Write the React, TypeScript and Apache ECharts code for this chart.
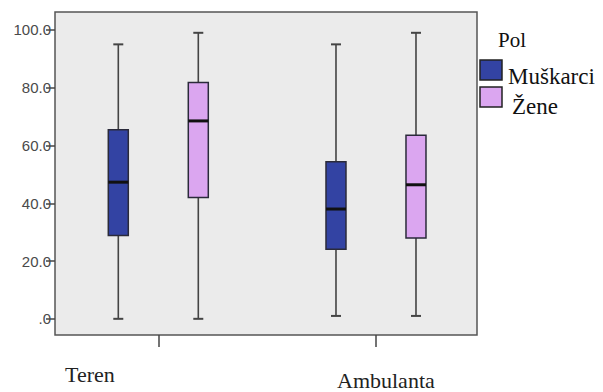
import React, { useEffect, useRef } from "react";
import * as echarts from "echarts";

const categories = ["Teren", "Ambulanta"];
const seriesNames = ["Muškarci", "Žene"];
// [min, Q1, median, Q3, max] per category
const muskarci = [
  [0, 28.8, 47.3, 65.4, 95],
  [1, 24.1, 38.0, 54.4, 95],
];
const zene = [
  [0, 42.0, 68.5, 81.8, 99],
  [1, 28.0, 46.4, 63.5, 99],
];
const yTicks = [0, 20, 40, 60, 80, 100];
const legendTitle = "Pol";

const colors = ["#3343a3", "#dba6f0"];
const offsets = [-40, 40];

function makeRender(offset: number, color: string) {
  return (params: any, api: any) => {
    const x = api.value(0);
    const v = [1, 2, 3, 4, 5].map((i) => api.value(i));
    const p = v.map((val) => api.coord([x, val]));
    const cx = p[0][0] + offset;
    const [yMin, yQ1, yMed, yQ3, yMax] = p.map((q) => q[1]);
    const bw = 20;
    const cap = 10;
    const wStyle = { stroke: "#444", lineWidth: 1.6 };
    return {
      type: "group",
      children: [
        { type: "line", shape: { x1: cx, y1: yMax, x2: cx, y2: yQ3 }, style: wStyle },
        { type: "line", shape: { x1: cx, y1: yQ1, x2: cx, y2: yMin }, style: wStyle },
        { type: "line", shape: { x1: cx - cap / 2, y1: yMax, x2: cx + cap / 2, y2: yMax }, style: { stroke: "#444", lineWidth: 2 } },
        { type: "line", shape: { x1: cx - cap / 2, y1: yMin, x2: cx + cap / 2, y2: yMin }, style: { stroke: "#444", lineWidth: 2 } },
        {
          type: "rect",
          shape: { x: cx - bw / 2, y: yQ3, width: bw, height: yQ1 - yQ3 },
          style: { fill: color, stroke: "#2a2a3a", lineWidth: 1.5 },
        },
        { type: "line", shape: { x1: cx - bw / 2, y1: yMed, x2: cx + bw / 2, y2: yMed }, style: { stroke: "#111", lineWidth: 3 } },
      ],
    };
  };
}

export default function App() {
  const ref = useRef<HTMLDivElement>(null);
  useEffect(() => {
    if (!ref.current) return;
    const chart = echarts.init(ref.current, null, { renderer: "svg" });
    const groups = [muskarci, zene];
    const serif = "'Liberation Serif', 'Times New Roman', serif";
    chart.setOption({
      animation: false,
      backgroundColor: "#ffffff",
      grid: {
        left: 55,
        top: 12,
        width: 422,
        height: 323,
        show: true,
        backgroundColor: "#ebebeb",
        borderColor: "#555",
        borderWidth: 1.5,
      },
      xAxis: {
        type: "value",
        min: -0.4745,
        max: 1.464,
        axisLine: { show: false, onZero: false },
        splitLine: { show: false },
        axisTick: {
          show: true,
          customValues: categories.map((_, i) => i),
          length: 12,
          lineStyle: { color: "#444", width: 1.5 },
        },
        axisLabel: { show: false },
      },
      yAxis: {
        type: "value",
        min: -5.6,
        max: 106.2,
        axisLine: { show: false, onZero: false },
        splitLine: { show: false },
        axisTick: {
          show: true,
          customValues: yTicks,
          length: 9,
          lineStyle: { color: "#444", width: 1.5 },
        },
        axisLabel: {
          customValues: yTicks,
          margin: 4,
          fontSize: 15,
          color: "#4a4a4a",
          fontFamily: "'Liberation Sans', Arial, sans-serif",
          formatter: (v: number) => (v === 0 ? ".0" : v.toFixed(1)),
        },
      },
      series: seriesNames.map((name, si) => ({
        name,
        type: "custom",
        renderItem: makeRender(offsets[si], colors[si]),
        encode: { x: 0, y: [1, 2, 3, 4, 5] },
        itemStyle: { color: colors[si] },
        data: groups[si].map((row, ci) => [ci, ...row]),
      })),
      graphic: [
        { type: "text", left: 65, top: 363, style: { text: categories[0], font: `22px ${serif}`, fill: "#222" } },
        { type: "text", left: 337, top: 369, style: { text: categories[1], font: `22px ${serif}`, fill: "#222" } },
        { type: "text", left: 498, top: 29, style: { text: legendTitle, font: `21px ${serif}`, fill: "#111" } },
        { type: "rect", shape: { x: 480, y: 60, width: 22, height: 20 }, style: { fill: colors[0], stroke: "#222", lineWidth: 1.5 } },
        { type: "rect", shape: { x: 480, y: 87, width: 22, height: 20 }, style: { fill: colors[1], stroke: "#222", lineWidth: 1.5 } },
        { type: "text", left: 508, top: 65, style: { text: seriesNames[0], font: `23px ${serif}`, fill: "#111" } },
        { type: "text", left: 512, top: 95, style: { text: seriesNames[1], font: `23px ${serif}`, fill: "#111" } },
      ],
    });
    return () => chart.dispose();
  }, []);
  return <div ref={ref} style={{ width: 603, height: 392, position: "absolute", left: 0, top: 0 }} />;
}
